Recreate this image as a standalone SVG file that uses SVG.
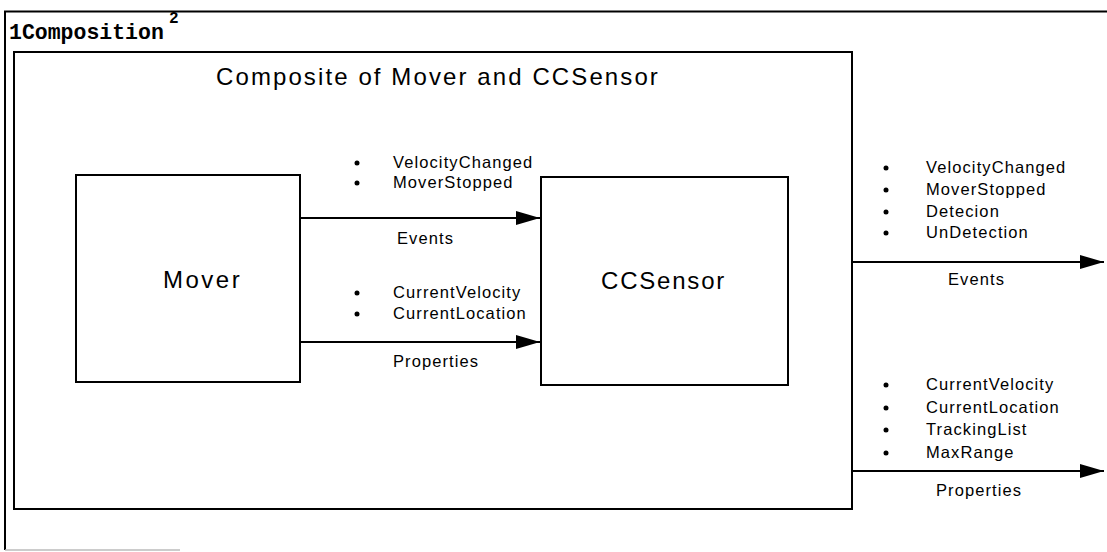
<svg xmlns="http://www.w3.org/2000/svg" width="1107" height="552" viewBox="0 0 1107 552">
<style>
.box{fill:none;stroke:#000;stroke-width:2}
.conn{stroke:#000;stroke-width:2;fill:none}
.lbl{font-family:"Liberation Sans",Arial,sans-serif;font-size:16.5px;letter-spacing:1.1px;fill:#000}
.big{font-family:"Liberation Sans",Arial,sans-serif;font-size:24px;fill:#000}
.title{font-family:"Liberation Mono","Courier New",monospace;font-weight:bold;fill:#000}
.dot{fill:#000}
</style>
<defs>
<marker id="ah" markerWidth="24" markerHeight="16" refX="24" refY="8" orient="auto" markerUnits="userSpaceOnUse">
<path d="M0,1 L24,8 L0,15 Z" fill="#000"/>
</marker>
</defs>
<rect width="1107" height="552" fill="#fff"/>
<g id="composition-frame">
<path d="M1107,11.5 L5,11.5 L5,550" class="box"/>
<line x1="5" y1="550" x2="180" y2="550" stroke="#bbb" stroke-width="1.5"/>
<text class="title" x="9" y="39" font-size="21.5">1Composition</text>
<text class="title" x="169" y="23" font-size="16">2</text>
</g>
<g id="composite">
<rect x="14" y="52" width="838" height="457" class="box"/>
<text class="big" x="216" y="85" font-size="22" letter-spacing="2.1">Composite of Mover and CCSensor</text>
</g>
<g id="mover">
<rect x="76" y="175" width="224" height="207" class="box"/>
<text class="big" x="163" y="288" letter-spacing="2.5">Mover</text>
</g>
<g id="ccsensor">
<rect x="541" y="177" width="247" height="208" class="box"/>
<text class="big" x="601" y="289" letter-spacing="1.8">CCSensor</text>
</g>
<g id="connectors">
<line x1="300" y1="218" x2="540" y2="218" class="conn" marker-end="url(#ah)"/>
<line x1="300" y1="342" x2="540" y2="342" class="conn" marker-end="url(#ah)"/>
<line x1="852" y1="262" x2="1104" y2="262" class="conn" marker-end="url(#ah)"/>
<line x1="852" y1="471" x2="1104" y2="471" class="conn" marker-end="url(#ah)"/>
</g>
<g id="labels-inner-events">
<circle class="dot" cx="357" cy="163" r="2.5"/>
<circle class="dot" cx="357" cy="183" r="2.5"/>
<text class="lbl" x="393" y="168">VelocityChanged</text>
<text class="lbl" x="393" y="188">MoverStopped</text>
<text class="lbl" x="397" y="244">Events</text>
</g>
<g id="labels-inner-props">
<circle class="dot" cx="357" cy="293" r="2.5"/>
<circle class="dot" cx="357" cy="314" r="2.5"/>
<text class="lbl" x="393" y="298">CurrentVelocity</text>
<text class="lbl" x="393" y="319">CurrentLocation</text>
<text class="lbl" x="393" y="367">Properties</text>
</g>
<g id="labels-outer-events">
<circle class="dot" cx="886" cy="168" r="2.5"/>
<circle class="dot" cx="886" cy="190" r="2.5"/>
<circle class="dot" cx="886" cy="212" r="2.5"/>
<circle class="dot" cx="886" cy="233" r="2.5"/>
<text class="lbl" x="926" y="173">VelocityChanged</text>
<text class="lbl" x="926" y="195">MoverStopped</text>
<text class="lbl" x="926" y="217">Detecion</text>
<text class="lbl" x="926" y="238">UnDetection</text>
<text class="lbl" x="948" y="285">Events</text>
</g>
<g id="labels-outer-props">
<circle class="dot" cx="886" cy="385" r="2.5"/>
<circle class="dot" cx="886" cy="408" r="2.5"/>
<circle class="dot" cx="886" cy="430" r="2.5"/>
<circle class="dot" cx="886" cy="453" r="2.5"/>
<text class="lbl" x="926" y="390">CurrentVelocity</text>
<text class="lbl" x="926" y="413">CurrentLocation</text>
<text class="lbl" x="926" y="435">TrackingList</text>
<text class="lbl" x="926" y="458">MaxRange</text>
<text class="lbl" x="936" y="496">Properties</text>
</g>
</svg>
